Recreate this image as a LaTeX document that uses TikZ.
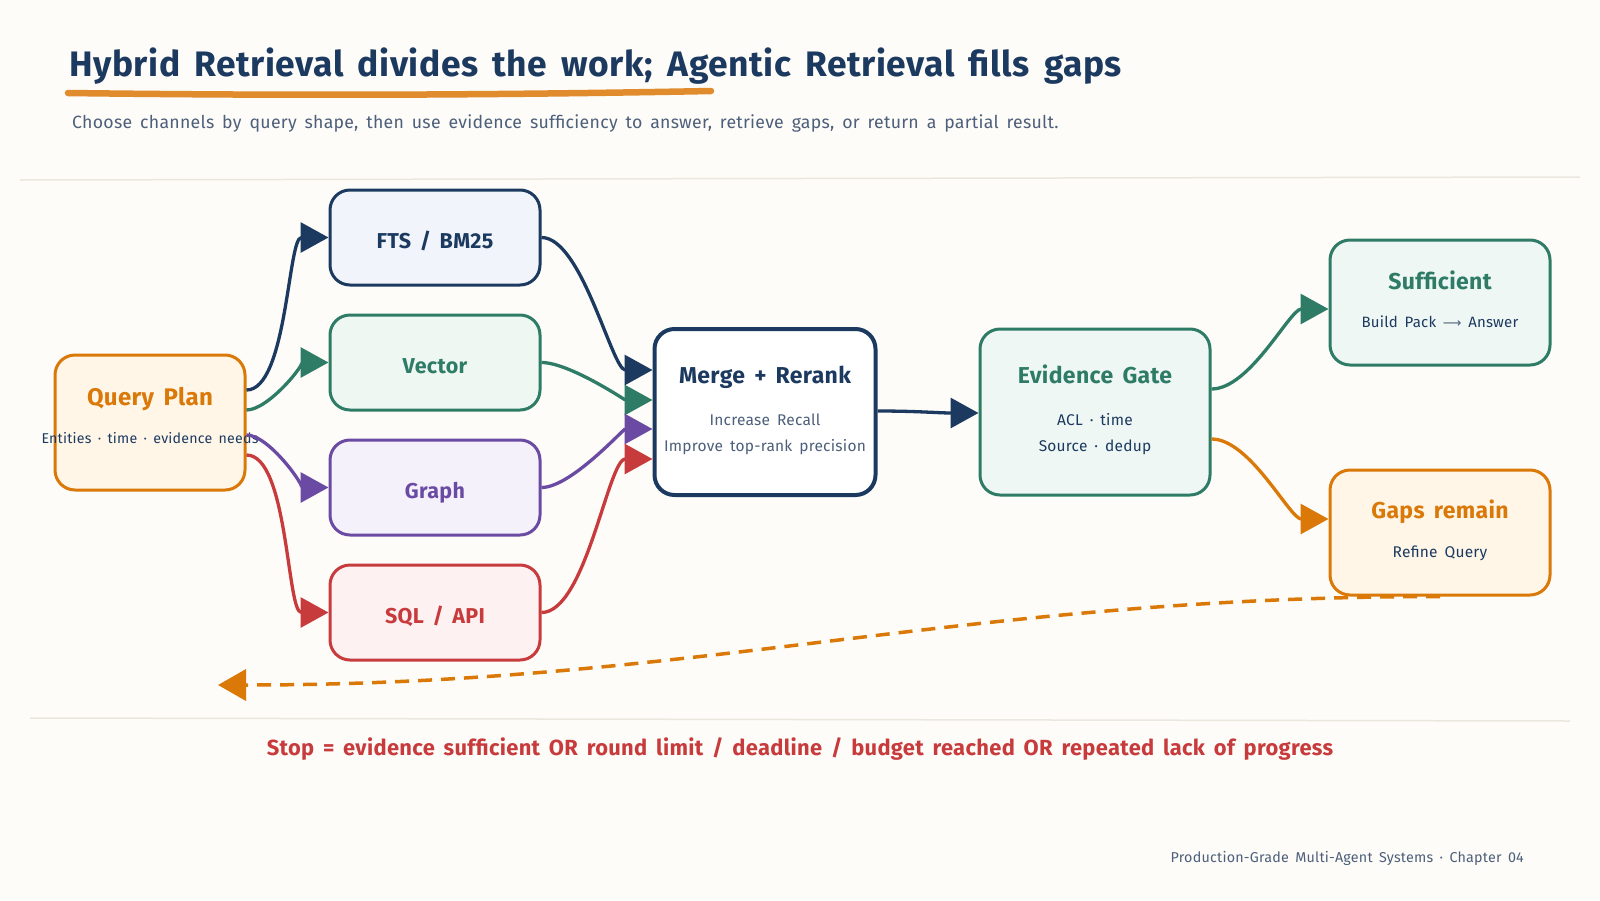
\documentclass[tikz,border=0pt]{standalone}
\usepackage{fontspec}
\setmainfont[WordSpace=1.6,LetterSpace=1.5]{Fira Sans}
\newfontfamily\symfont{DejaVu Sans}
\usetikzlibrary{arrows.meta}
\definecolor{bg}{HTML}{FDFCF8}
\definecolor{navy}{HTML}{1C3A60}
\definecolor{slate}{HTML}{4D5F7A}
\definecolor{grn}{HTML}{2E7B66}
\definecolor{purp}{HTML}{6A4AA2}
\definecolor{crim}{HTML}{C83B3D}
\definecolor{orng}{HTML}{DA7808}
\definecolor{uline}{HTML}{E08B2C}
\definecolor{sep}{HTML}{EAE7DE}
\definecolor{ftsfill}{HTML}{F1F5FB}
\definecolor{vecfill}{HTML}{EFF7F3}
\definecolor{grfill}{HTML}{F5F1FB}
\definecolor{sqlfill}{HTML}{FDF1F1}
\definecolor{qpfill}{HTML}{FFF6E8}
\definecolor{evfill}{HTML}{EFF7F4}
\begin{document}
\begin{tikzpicture}[x=1pt,y=-1pt,
  box/.style={draw, rounded corners=20pt, line width=3pt, inner sep=0pt, rectangle},
  hd/.style={font=\fontsize{23}{27}\selectfont\bfseries, anchor=base, inner sep=0pt},
  chl/.style={font=\fontsize{21.5}{25}\selectfont\bfseries, anchor=base, inner sep=0pt},
  sub/.style={font=\fontsize{15.5}{19}\selectfont, anchor=base, inner sep=0pt},
  conn/.style={line width=3.3pt, -{Triangle[length=28pt,width=30pt]}},
  loopdash/.style={line width=3.5pt, dash pattern=on 14pt off 9pt, -{Triangle[length=28pt,width=31pt]}}]
\useasboundingbox (0,0) rectangle (1600,900);
\fill[bg] (0,0) rectangle (1600,900);

% header
\node[anchor=base west, inner sep=0pt, text=navy, font=\fontsize{35.4}{40}\selectfont\bfseries] (title) at (69,76) {Hybrid Retrieval divides the work; Agentic Retrieval fills gaps};
\draw[uline, line width=6.5pt, line cap=round] (68,93) .. controls (300,96) and (500,95) .. (711,91);
\node[anchor=base west, inner sep=0pt, text=slate, font=\fontsize{17.7}{20}\selectfont] (subtitle) at (72,128) {Choose channels by query shape, then use evidence sufficiency to answer, retrieve gaps, or return a partial result.};
\draw[sep, line width=1.5pt] (20,180) -- (1580,177);
\draw[sep, line width=1.5pt] (30,718) -- (1570,721);

% boxes
\node[box, draw=orng, fill=qpfill, minimum width=190pt, minimum height=135pt] (qp) at (150,422.5) {};
\node[box, draw=navy, fill=ftsfill, minimum width=210pt, minimum height=95pt] (fts) at (435,237.5) {};
\node[box, draw=grn, fill=vecfill, minimum width=210pt, minimum height=95pt] (vec) at (435,362.5) {};
\node[box, draw=purp, fill=grfill, minimum width=210pt, minimum height=95pt] (graph) at (435,487.5) {};
\node[box, draw=crim, fill=sqlfill, minimum width=210pt, minimum height=95pt] (sql) at (435,612.5) {};
\node[box, draw=navy, fill=white, line width=4pt, minimum width=221pt, minimum height=166pt] (merge) at (765,412) {};
\node[box, draw=grn, fill=evfill, minimum width=230pt, minimum height=166pt] (evid) at (1095,412) {};
\node[box, draw=grn, fill=evfill, minimum width=220pt, minimum height=125pt] (suff) at (1440,302.5) {};
\node[box, draw=orng, fill=qpfill, minimum width=220pt, minimum height=125pt] (gaps) at (1440,532.5) {};

% box texts
\node[hd, text=orng, font=\fontsize{24}{28}\selectfont\bfseries] (qpT) at (150,405) {Query Plan};
\node[sub, text=navy, font=\fontsize{14.2}{17}\selectfont] (qpS) at (150,443) {Entities · time · evidence needs};
\node[chl, text=navy] (ftsT) at (435,248) {FTS / BM25};
\node[chl, text=grn] (vecT) at (435,373) {Vector};
\node[chl, text=purp] (graphT) at (435,498) {Graph};
\node[chl, text=crim] (sqlT) at (435,623) {SQL / API};
\node[hd, text=navy] (mergeT) at (765,383) {Merge + Rerank};
\node[sub, text=slate] (mergeA) at (765,425) {Increase Recall};
\node[sub, text=slate] (mergeB) at (765,451) {Improve top-rank precision};
\node[hd, text=grn] (evidT) at (1095,383) {Evidence Gate};
\node[sub, text=navy] (evidA) at (1095,425) {ACL · time};
\node[sub, text=navy] (evidB) at (1095,451) {Source · dedup};
\node[hd, text=grn] (suffT) at (1440,289) {Sufficient};
\node[sub, text=navy, font=\fontsize{15}{18}\selectfont] (suffS) at (1440,327) {Build Pack {\symfont\fontsize{13}{16}\selectfont\color{slate}⟶} Answer};
\node[hd, text=orng] (gapsT) at (1440,518) {Gaps remain};
\node[sub, text=navy, font=\fontsize{15.5}{18}\selectfont] (gapsS) at (1440,557) {Refine Query};

% connectors: query plan -> channels
\draw[conn, navy] ([yshift=32.5pt]qp.east) to[out=0,in=180,looseness=0.6] (fts.west);
\draw[conn, grn] ([yshift=12.5pt]qp.east) to[out=0,in=180,looseness=0.6] (vec.west);
\draw[conn, purp] ([yshift=-12.5pt]qp.east) to[out=0,in=180,looseness=0.6] (graph.west);
\draw[conn, crim] ([yshift=-32.5pt]qp.east) to[out=0,in=180,looseness=0.6] (sql.west);
% channels -> merge
\draw[conn, navy] (fts.east) to[out=0,in=180,looseness=0.6] ([yshift=42pt]merge.west);
\draw[conn, grn] (vec.east) to[out=0,in=180,looseness=0.6] ([yshift=12pt]merge.west);
\draw[conn, purp] (graph.east) to[out=0,in=180,looseness=0.6] ([yshift=-17pt]merge.west);
\draw[conn, crim] (sql.east) to[out=0,in=180,looseness=0.6] ([yshift=-47pt]merge.west);
% merge -> evidence
\draw[conn, navy] ([yshift=1pt]merge.east) to[out=0,in=180] ([yshift=-1pt]evid.west);
% evidence -> outcomes
\draw[conn, grn] ([yshift=23pt]evid.east) to[out=0,in=180,looseness=0.7] ([yshift=-6.5pt]suff.west);
\draw[conn, orng] ([yshift=-27pt]evid.east) to[out=0,in=180,looseness=0.7] ([yshift=13.5pt]gaps.west);
% loop back
\coordinate (loopend) at (218,685);
\draw[loopdash, orng] (gaps.south) .. controls ([xshift=-480pt]gaps.south) and ([xshift=480pt]loopend) .. (loopend);

% footer texts
\node[anchor=base, inner sep=0pt, text=crim, font=\fontsize{21.9}{25}\selectfont\bfseries] (stop) at (800,755) {Stop = evidence sufficient OR round limit / deadline / budget reached OR repeated lack of progress};
\node[anchor=base east, inner sep=0pt, text=slate, font=\fontsize{14.3}{17}\selectfont] (footer) at (1524,862) {Production-Grade Multi-Agent Systems · Chapter 04};
\end{tikzpicture}
\end{document}
